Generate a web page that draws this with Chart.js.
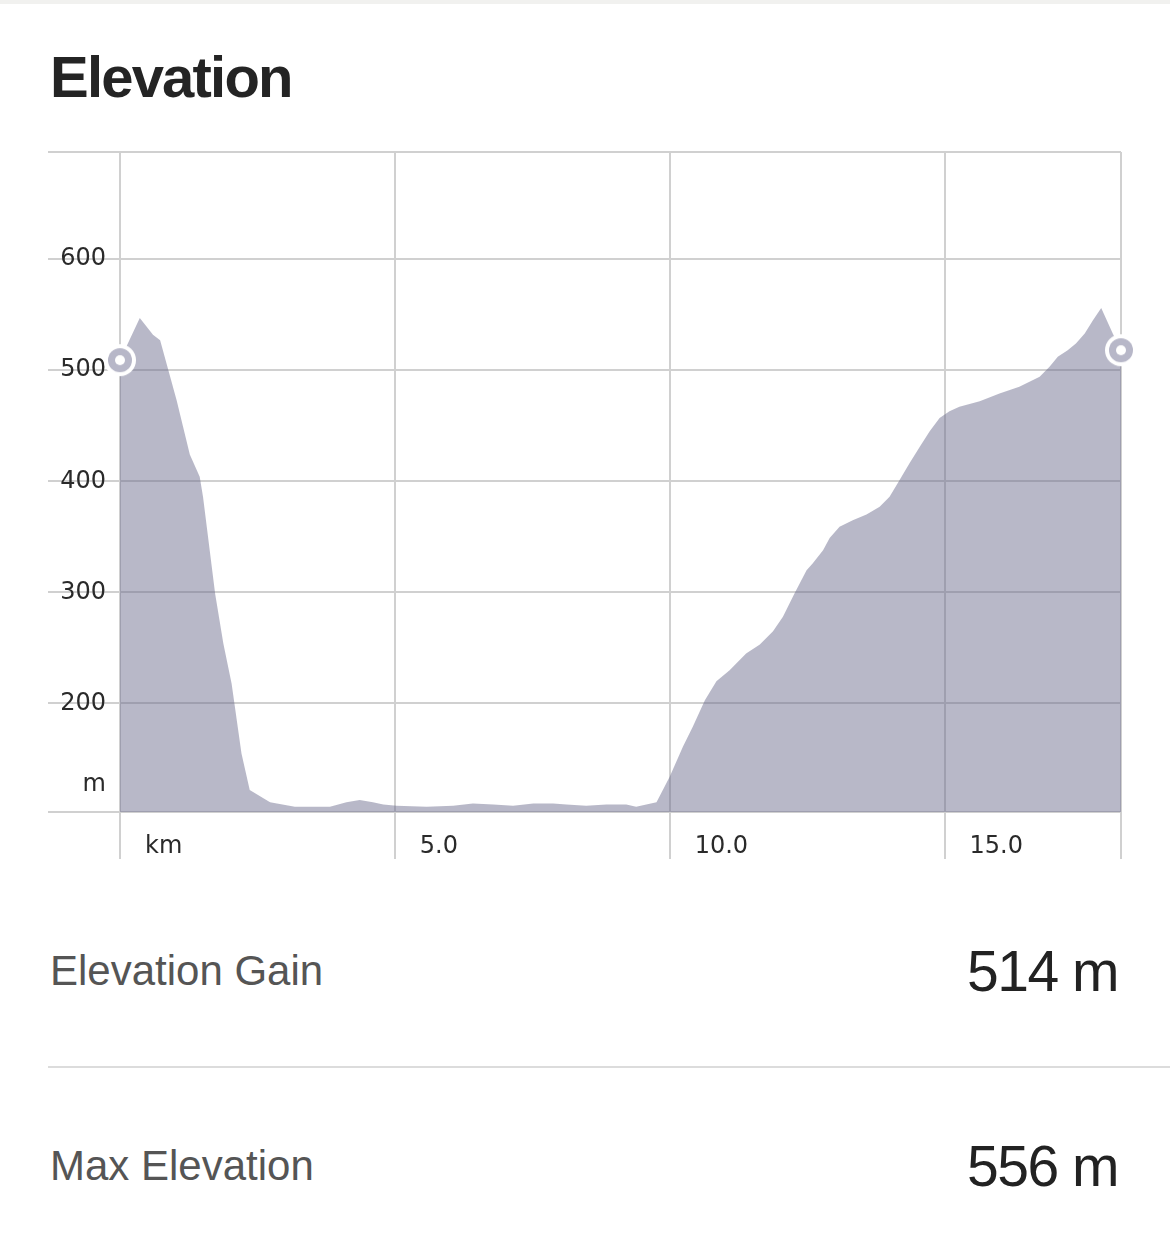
<!DOCTYPE html>
<html>
<head>
<meta charset="utf-8">
<script src="https://cdn.jsdelivr.net/npm/chart.js@4.4.1/dist/chart.umd.min.js"></script>
<style>
  body { margin: 0; background: #fff; width: 1170px; height: 1259px; position: relative; overflow: hidden; font-family: "Liberation Sans", Arial, sans-serif; }
  .topbar { position: absolute; left: 0; top: 0; width: 1170px; height: 4px; background: #f1f1ef; }
  h1 { position: absolute; left: 50px; top: 48px; margin: 0; font-size: 58px; line-height: 1; font-weight: bold; letter-spacing: -1.8px; color: #242424; }
  #wrap { position: absolute; left: 0; top: 140px; width: 1170px; height: 732px; }
  .label { position: absolute; left: 50px; font-size: 42px; line-height: 1; color: #555; }
  .value { position: absolute; right: 52px; font-size: 57px; line-height: 1; letter-spacing: -1.5px; color: #222; }
  .rule { position: absolute; left: 48px; right: 0; height: 2px; background: #dcdcdc; }
</style>
</head>
<body>
<div class="topbar"></div>
<h1>Elevation</h1>
<div id="wrap"><canvas id="elevation-chart" width="1170" height="732"></canvas></div>

<div class="label" style="top:950px">Elevation Gain</div>
<div class="value" style="top:943px">514 m</div>
<div class="rule" style="top:1066px"></div>
<div class="label" style="top:1145px">Max Elevation</div>
<div class="value" style="top:1138px">556 m</div>

<script>
"use strict";

// distance along the route (km) and elevation (m)
const distanceKm = [
  0.0, 0.36, 0.6, 0.73, 1.03, 1.27, 1.45, 1.51, 1.73, 1.88, 2.03, 2.21, 2.36,
  2.73, 3.18, 3.48, 3.82, 4.12, 4.36, 4.6, 4.79, 5.03, 5.58, 6.06, 6.42, 6.79,
  7.15, 7.52, 7.88, 8.12, 8.48, 8.85, 9.21, 9.39, 9.76, 10.0, 10.24, 10.42,
  10.64, 10.85, 11.09, 11.39, 11.64, 11.88, 12.06, 12.27, 12.49, 12.6, 12.79,
  12.91, 13.09, 13.33, 13.58, 13.82, 14.0, 14.18, 14.36, 14.55, 14.73, 14.91,
  15.09, 15.27, 15.64, 16.0, 16.36, 16.73, 16.91, 17.06, 17.24, 17.39, 17.55,
  17.7, 17.85, 18.06, 18.21
];
const elevationM = [
  509, 547, 532, 527, 473, 424, 404, 386, 299, 254, 218, 155, 122,
  111, 107, 107, 107, 111, 113, 111, 109, 108, 107, 108, 110, 109,
  108, 110, 110, 109, 108, 109, 109, 107, 111, 134, 161, 179,
  203, 220, 230, 245, 253, 265, 278, 299, 320, 326, 338,
  349, 359, 365, 370, 377, 386, 401, 416, 431, 445, 457,
  463, 467, 472, 479, 485, 494, 503, 512, 518, 524, 533,
  545, 556, 533, 518
];

const xTickValues = [0, 5, 10, 15];
const xTickLabels = ["km", "5.0", "10.0", "15.0"];
const yTickValues = [200, 300, 400, 500, 600];
const yUnitLabel = "m";
const yUnitValue = 127;
const yMin = 102.3;
const yMax = 696.4;

const gridColor = "#d0d0d0";
const fillColor = "rgba(104, 104, 138, 0.47)";

// start / finish marker
function makeMarker() {
  const c = document.createElement("canvas");
  c.width = 34;
  c.height = 34;
  const g = c.getContext("2d");
  g.fillStyle = "#ffffff";
  g.beginPath(); g.arc(17, 17, 16, 0, Math.PI * 2); g.fill();
  g.fillStyle = "#b7b7c8";
  g.beginPath(); g.arc(17, 17, 12, 0, Math.PI * 2); g.fill();
  g.fillStyle = "#ffffff";
  g.beginPath(); g.arc(17, 17, 5, 0, Math.PI * 2); g.fill();
  return c;
}
const marker = makeMarker();

const points = [];
for (let i = 0; i < distanceKm.length; i++) {
  points.push({ x: distanceKm[i], y: elevationM[i] });
}
const lastIndex = points.length - 1;

const tickFont = { family: "'DejaVu Sans', sans-serif", size: 24 };

const chart = new Chart(document.getElementById("elevation-chart"), {
  type: "line",
  data: {
    datasets: [
      {
        data: points,
        fill: "start",
        backgroundColor: fillColor,
        borderColor: "rgba(0,0,0,0)",
        borderWidth: 0,
        tension: 0,
        clip: false,
        pointStyle: marker,
        pointRadius: (ctx) => (ctx.dataIndex === 0 || ctx.dataIndex === lastIndex ? 16 : 0),
        pointHoverRadius: 0,
      },
    ],
  },
  options: {
    responsive: false,
    animation: false,
    events: [],
    layout: { autoPadding: false, padding: { left: 48, right: 49, top: 12, bottom: 0 } },
    plugins: { legend: { display: false }, tooltip: { enabled: false } },
    scales: {
      x: {
        type: "linear",
        min: 0,
        max: distanceKm[lastIndex],
        border: { display: false },
        grid: { color: gridColor, lineWidth: 2, tickLength: 47 },
        afterBuildTicks: (scale) => {
          scale.ticks = xTickValues.concat([distanceKm[lastIndex]]).map((v) => ({ value: v }));
        },
        afterFit: (scale) => {
          scale.height = 60;
          scale.paddingLeft = 0;
          scale.paddingRight = 0;
        },
        ticks: {
          autoSkip: false,
          maxRotation: 0,
          align: "start",
          labelOffset: 25,
          padding: -27,
          color: "#2a2a2a",
          font: tickFont,
          callback: (value) => {
            const i = xTickValues.indexOf(value);
            return i >= 0 ? xTickLabels[i] : "";
          },
        },
      },
      y: {
        min: yMin,
        max: yMax,
        border: { display: false },
        grid: {
          lineWidth: 2,
          tickLength: 72,
          color: (ctx) => (ctx.tick && ctx.tick.value === yUnitValue ? "rgba(0,0,0,0)" : gridColor),
        },
        afterBuildTicks: (scale) => {
          scale.ticks = [yMin, yUnitValue].concat(yTickValues, [yMax]).map((v) => ({ value: v }));
        },
        afterFit: (scale) => {
          scale.width = 72;
          scale.paddingTop = 0;
          scale.paddingBottom = 0;
        },
        ticks: {
          autoSkip: false,
          padding: -58,
          color: "#2a2a2a",
          font: tickFont,
          callback: (value) => {
            if (value === yUnitValue) return yUnitLabel;
            return yTickValues.includes(value) ? String(value) : "";
          },
        },
      },
    },
  },
});
</script>
</body>
</html>
